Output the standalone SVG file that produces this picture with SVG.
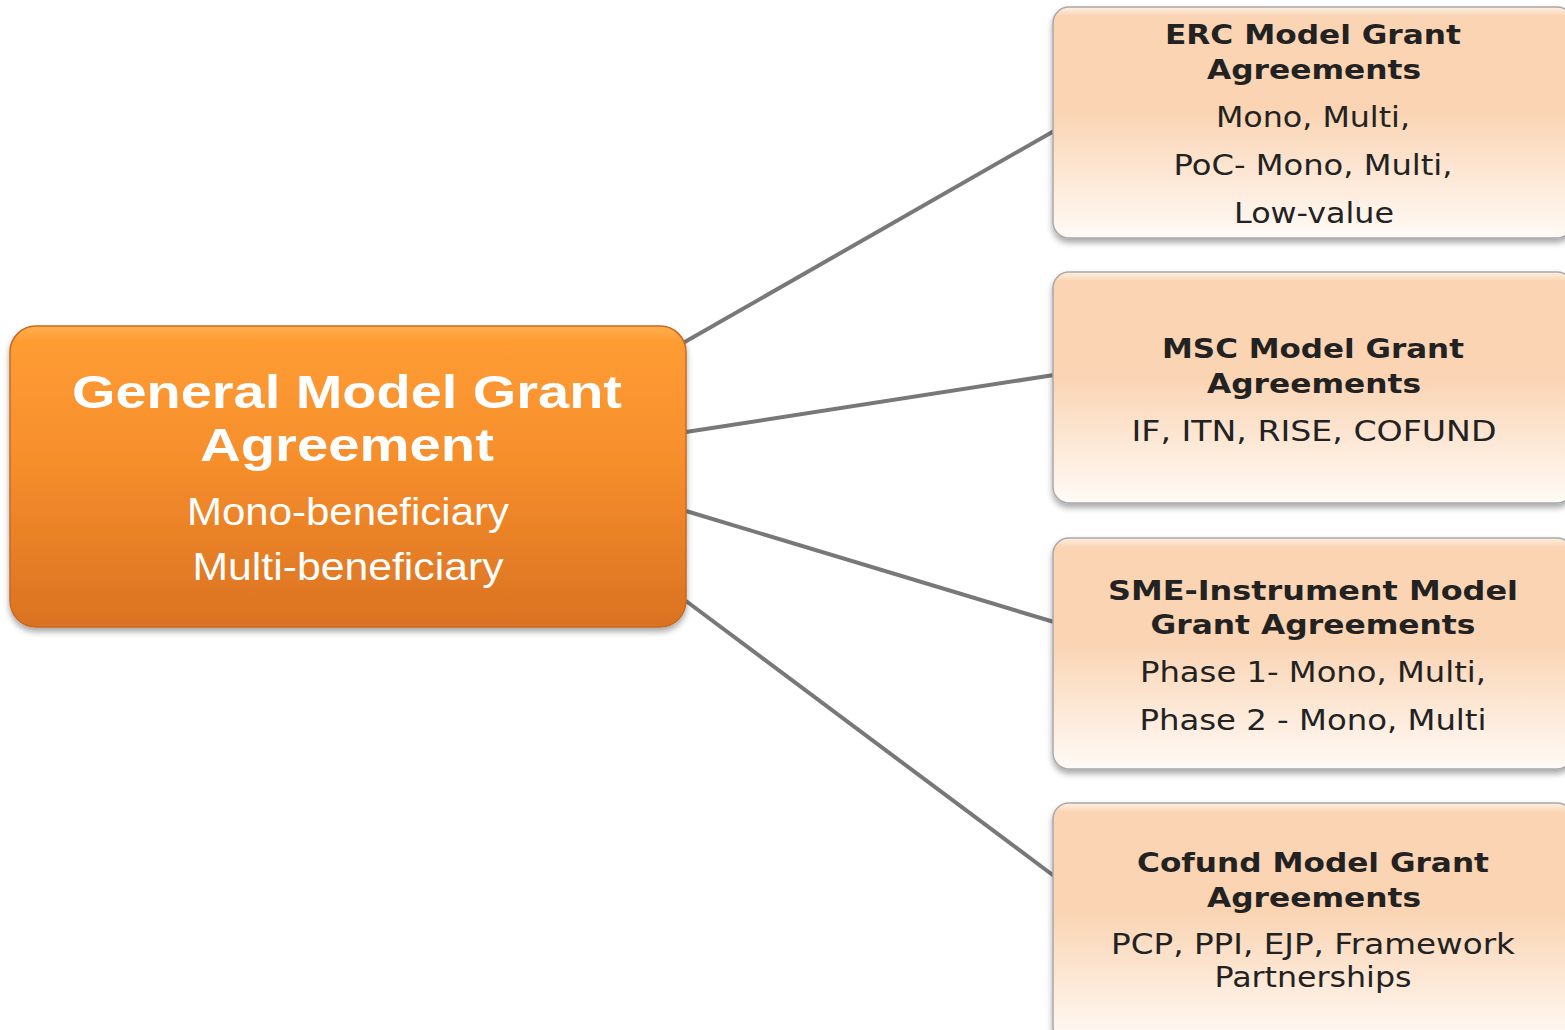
<svg xmlns="http://www.w3.org/2000/svg" width="1565" height="1030" viewBox="0 0 1565 1030">
<defs>
<linearGradient id="gMain" x1="0" y1="0" x2="0" y2="1">
<stop offset="0" stop-color="#FFB050"/>
<stop offset="0.05" stop-color="#FF9C33"/>
<stop offset="0.45" stop-color="#F68E2C"/>
<stop offset="1" stop-color="#DA7222"/>
</linearGradient>
<linearGradient id="gSub" x1="0" y1="0" x2="0" y2="1">
<stop offset="0" stop-color="#FDF0E2"/>
<stop offset="0.04" stop-color="#FAD4B3"/>
<stop offset="0.45" stop-color="#FAD4B3"/>
<stop offset="1" stop-color="#FFFAF6"/>
</linearGradient>
<filter id="shadow" x="-5%" y="-5%" width="110%" height="120%">
<feGaussianBlur in="SourceAlpha" stdDeviation="3"/>
<feOffset dx="0" dy="4" result="b"/>
<feComponentTransfer><feFuncA type="linear" slope="0.35"/></feComponentTransfer>
<feMerge><feMergeNode/><feMergeNode in="SourceGraphic"/></feMerge>
</filter>
</defs>
<style>
.conn{stroke:#787878;stroke-width:4;fill:none}
.main{fill:url(#gMain);stroke:#C86A22;stroke-width:1.5}
.sub{fill:url(#gSub);stroke:#A8A8A8;stroke-width:1.5}
.mt{font-family:"Liberation Sans",Arial,sans-serif;font-weight:bold;font-size:47px;fill:#ffffff;text-anchor:middle}
.ms{font-family:"Liberation Sans",Arial,sans-serif;font-size:38px;fill:#ffffff;text-anchor:middle}
.st{font-family:"DejaVu Sans",Verdana,sans-serif;font-weight:bold;font-size:27px;fill:#222222;text-anchor:middle}
.sb{font-family:"DejaVu Sans",Verdana,sans-serif;font-size:29px;fill:#222222;text-anchor:middle}
</style>
<rect width="1565" height="1030" fill="#ffffff"/>
<g id="connectors">
<line class="conn" x1="683" y1="343" x2="1054" y2="131"/>
<line class="conn" x1="686" y1="432" x2="1054" y2="375"/>
<line class="conn" x1="686" y1="511" x2="1054" y2="622"/>
<line class="conn" x1="686" y1="601" x2="1054" y2="876"/>
</g>
<g id="general">
<rect class="main" x="10" y="326" width="676" height="301" rx="26" filter="url(#shadow)"/>
<text class="mt" x="347" y="408" textLength="550" lengthAdjust="spacingAndGlyphs">General Model Grant</text>
<text class="mt" x="347" y="461" textLength="294" lengthAdjust="spacingAndGlyphs">Agreement</text>
<text class="ms" x="348" y="525" textLength="322" lengthAdjust="spacingAndGlyphs">Mono-beneficiary</text>
<text class="ms" x="348" y="580" textLength="311" lengthAdjust="spacingAndGlyphs">Multi-beneficiary</text>
</g>
<g id="erc">
<rect class="sub" x="1053" y="7" width="520" height="231" rx="16" filter="url(#shadow)"/>
<text class="st" x="1313" y="44" textLength="296" lengthAdjust="spacingAndGlyphs">ERC Model Grant</text>
<text class="st" x="1314" y="79" textLength="214" lengthAdjust="spacingAndGlyphs">Agreements</text>
<text class="sb" x="1313" y="127" textLength="194" lengthAdjust="spacingAndGlyphs">Mono, Multi,</text>
<text class="sb" x="1313" y="175" textLength="279" lengthAdjust="spacingAndGlyphs">PoC- Mono, Multi,</text>
<text class="sb" x="1314" y="223" textLength="160" lengthAdjust="spacingAndGlyphs">Low-value</text>
</g>
<g id="msc">
<rect class="sub" x="1053" y="272" width="520" height="231" rx="16" filter="url(#shadow)"/>
<text class="st" x="1313" y="358" textLength="302" lengthAdjust="spacingAndGlyphs">MSC Model Grant</text>
<text class="st" x="1314" y="393" textLength="214" lengthAdjust="spacingAndGlyphs">Agreements</text>
<text class="sb" x="1314" y="441" textLength="365" lengthAdjust="spacingAndGlyphs">IF, ITN, RISE, COFUND</text>
</g>
<g id="sme">
<rect class="sub" x="1053" y="538" width="520" height="231" rx="16" filter="url(#shadow)"/>
<text class="st" x="1313" y="600" textLength="410" lengthAdjust="spacingAndGlyphs">SME-Instrument Model</text>
<text class="st" x="1313" y="634" textLength="325" lengthAdjust="spacingAndGlyphs">Grant Agreements</text>
<text class="sb" x="1313" y="682" textLength="346" lengthAdjust="spacingAndGlyphs">Phase 1- Mono, Multi,</text>
<text class="sb" x="1313" y="730" textLength="347" lengthAdjust="spacingAndGlyphs">Phase 2 - Mono, Multi</text>
</g>
<g id="cofund">
<rect class="sub" x="1053" y="803" width="520" height="240" rx="16" filter="url(#shadow)"/>
<text class="st" x="1313" y="872" textLength="352" lengthAdjust="spacingAndGlyphs">Cofund Model Grant</text>
<text class="st" x="1314" y="907" textLength="214" lengthAdjust="spacingAndGlyphs">Agreements</text>
<text class="sb" x="1313" y="954" textLength="404" lengthAdjust="spacingAndGlyphs">PCP, PPI, EJP, Framework</text>
<text class="sb" x="1313" y="987" textLength="197" lengthAdjust="spacingAndGlyphs">Partnerships</text>
</g>
</svg>
